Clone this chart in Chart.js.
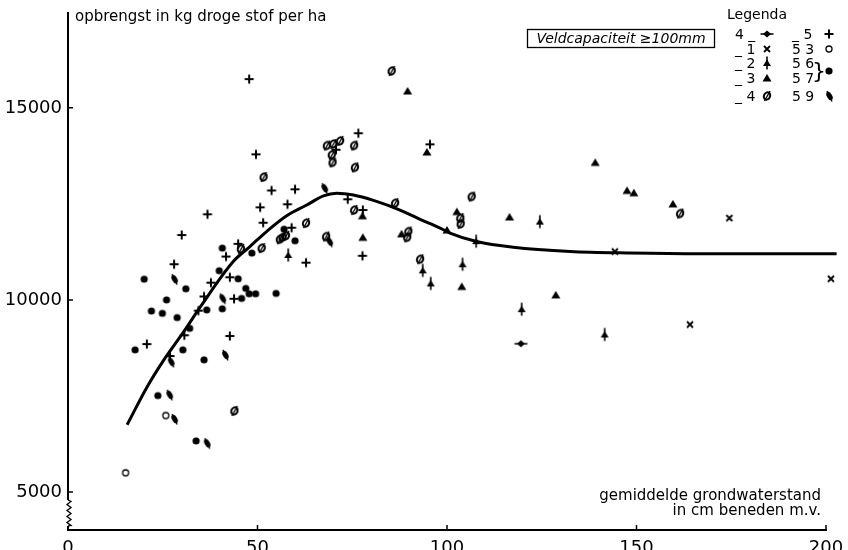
<!DOCTYPE html>
<html>
<head>
<meta charset="utf-8">
<script src="https://cdn.jsdelivr.net/npm/chart.js@4"></script>
<style>
  html, body { margin: 0; padding: 0; background: #fff; }
  #wrap { width: 848px; height: 550px; }
</style>
</head>
<body>
<div id="wrap"><canvas id="grafiek" width="848" height="550"></canvas></div>
<script>
// waarden: [grondwaterstand cm, opbrengst kg/ha]
const pts4_ = [[119.5, 8860]];
const pts_1 = [[144.3, 11260], [174.5, 12130], [164.1, 9360], [201.3, 10550]];
const pts_2 = [[58.1, 11170], [93.6, 10770], [95.7, 10430], [104.1, 10930], [107.7, 11530],
  [124.5, 12040], [119.7, 9760], [141.6, 9100]];
const pts_3 = [[89.6, 15440], [94.7, 13850], [77.8, 11630], [77.7, 12190], [88.0, 11720],
  [100.0, 11820], [102.6, 12300], [116.5, 12160], [103.9, 10350], [128.7, 10130],
  [139.1, 13580], [147.5, 12850], [149.3, 12790], [159.6, 12500]];
const pts_4 = [[85.4, 15960], [68.3, 14020], [70.0, 14060], [71.8, 14140], [69.6, 13780],
  [69.8, 13580], [75.5, 14020], [75.7, 13450], [51.6, 13200], [62.8, 12000], [55.9, 11580],
  [56.6, 11630], [57.5, 11670], [68.1, 11650], [75.5, 12340], [86.3, 12520], [89.8, 11780],
  [89.5, 11630], [92.9, 11060], [103.5, 12130], [103.6, 11980], [106.5, 12690], [161.5, 12250],
  [45.6, 11330], [51.1, 11350], [43.9, 7110]];
const pts_5 = [[47.8, 15750], [76.6, 14340], [70.7, 13910], [95.5, 14050], [49.6, 13790],
  [53.7, 12850], [59.9, 12880], [36.8, 12230], [50.7, 12410], [57.9, 12490], [73.8, 12620],
  [77.8, 12340], [51.5, 12010], [59.0, 11880], [30.0, 11690], [41.7, 11130], [62.8, 10970],
  [77.7, 11150], [28.0, 10930], [42.7, 10590], [37.7, 10450], [43.8, 10030], [35.9, 10090],
  [34.4, 9720], [30.7, 9080], [42.7, 9060], [20.8, 8850], [26.9, 8540], [44.9, 11460]];
const pts53 = [[15.2, 5500], [25.8, 6990]];
const pts5657 = [[20.1, 10540], [31.1, 10290], [26.0, 10000], [22.0, 9710], [24.9, 9650],
  [28.8, 9540], [32.1, 9260], [17.7, 8700], [30.3, 8700], [35.9, 8440], [23.7, 7510],
  [33.8, 6330], [40.7, 11350], [39.9, 10760], [44.9, 10550], [46.9, 10300], [47.8, 10160],
  [49.5, 10160], [54.9, 10170], [45.8, 10040], [36.6, 9740], [40.7, 9770], [48.5, 11220],
  [57.0, 11840], [59.9, 11540]];
const pts59 = [[28.0, 10540], [40.7, 10040], [41.4, 8570], [27.1, 8390], [26.7, 7530],
  [28.0, 6900], [36.6, 6270], [67.6, 12910], [68.9, 11520]];

// getekende kromme
const curveX = [15.6, 20.9, 25.3, 30.6, 35.0, 43.6, 48.0, 52.4, 57.7, 63.0, 67.4, 70.9,
  75.3, 80.6, 87.6, 92.9, 98.2, 100.8, 107.8, 117.5, 132.5, 148.3, 166.8, 202.8];
const curveY = [6750, 7740, 8440, 9180, 9830, 11000, 11390, 11780, 12190, 12470, 12710, 12780,
  12730, 12590, 12340, 12100, 11870, 11740, 11520, 11370, 11260, 11220, 11200, 11200];

const xTicks = [0, 50, 100, 150, 200];
const yTicks = [5000, 10000, 15000];
const legendLeft = ["4 _", "_ 1", "_ 2", "_ 3", "_ 4"];
const legendRight = ["_ 5", "5 3", "5 6", "5 7", "5 9"];

const FONT = "'DejaVu Sans', sans-serif";

// symbolen tekenen
function drawMarker(c, type, x, y) {
  c.save();
  c.translate(x, y);
  c.fillStyle = "#000";
  c.strokeStyle = "#000";
  c.lineCap = "butt";
  if (type == "dot") {
    c.beginPath(); c.arc(0, 0, 3.6, 0, Math.PI * 2); c.fill();
  } else if (type == "open") {
    c.lineWidth = 1.3;
    c.beginPath(); c.arc(0, 0, 3, 0, Math.PI * 2); c.stroke();
  } else if (type == "plus") {
    c.lineWidth = 2;
    c.beginPath(); c.moveTo(-4.5, 0); c.lineTo(4.5, 0); c.moveTo(0, -4.5); c.lineTo(0, 4.5); c.stroke();
  } else if (type == "cross") {
    c.lineWidth = 1.8;
    c.beginPath(); c.moveTo(-3, -3); c.lineTo(3, 3); c.moveTo(3, -3); c.lineTo(-3, 3); c.stroke();
  } else if (type == "tri") {
    c.beginPath(); c.moveTo(0, -4); c.lineTo(4.5, 3.5); c.lineTo(-4.5, 3.5); c.closePath(); c.fill();
  } else if (type == "spade") {
    c.beginPath(); c.moveTo(0, -3.5); c.lineTo(4, 3); c.lineTo(-4, 3); c.closePath(); c.fill();
    c.lineWidth = 1.6;
    c.beginPath(); c.moveTo(0, -6.5); c.lineTo(0, 6.5); c.stroke();
  } else if (type == "slash") {
    c.lineWidth = 2;
    c.beginPath(); c.ellipse(0, 0, 3, 3.8, 0.5, 0, Math.PI * 2); c.stroke();
    c.lineWidth = 1.4;
    c.beginPath(); c.moveTo(-2.5, 5); c.lineTo(3, -5); c.stroke();
  } else if (type == "flag") {
    c.beginPath(); c.ellipse(0.5, 0, 2.6, 4.6, -0.5, 0, Math.PI * 2); c.fill();
    c.lineWidth = 1.4;
    c.beginPath(); c.moveTo(-2, -5); c.lineTo(3, 5.5); c.stroke();
  } else if (type == "bar") {
    c.beginPath(); c.moveTo(0, -3.5); c.lineTo(4, 0); c.lineTo(0, 3.5); c.lineTo(-4, 0); c.closePath(); c.fill();
    c.lineWidth = 1.5;
    c.beginPath(); c.moveTo(-6.5, 0); c.lineTo(6.5, 0); c.stroke();
  }
  c.restore();
}

function markerCanvas(type) {
  const cv = document.createElement("canvas");
  cv.width = 16; cv.height = 16;
  drawMarker(cv.getContext("2d"), type, 8, 8);
  return cv;
}

function pointSet(label, arr, type) {
  return {
    type: "scatter",
    label: label,
    data: arr.map((p) => ({ x: p[0], y: p[1] })),
    pointStyle: markerCanvas(type),
    showLine: false,
    clip: false,
  };
}

const decoratie = {
  id: "decoratie",
  afterDraw(chart) {
    const c = chart.ctx;
    const xs = chart.scales.x, ys = chart.scales.y;
    const left = xs.left, bottom = ys.bottom;
    c.save();
    c.fillStyle = "#000";
    c.strokeStyle = "#000";

    // kleine streepjes naar binnen
    c.lineWidth = 1.5;
    c.beginPath();
    xTicks.forEach((v) => {
      const px = xs.getPixelForValue(v);
      c.moveTo(px, bottom); c.lineTo(px, bottom - 5);
    });
    yTicks.forEach((v) => {
      const py = ys.getPixelForValue(v);
      c.moveTo(left, py); c.lineTo(left + 5, py);
    });
    c.stroke();

    // onderbreking van de y-as
    const y0 = ys.getPixelForValue(5000) + 8, y1 = bottom - 4;
    c.fillStyle = "#fff";
    c.fillRect(left - 3, y0, 6, y1 - y0);
    c.fillStyle = "#000";
    c.lineWidth = 1.3;
    c.beginPath();
    c.moveTo(left, y0);
    let k = 0;
    for (let yy = y0 + 1.5; yy < y1; yy += 3) {
      c.lineTo(left + (k % 2 == 0 ? 3 : -1), yy);
      k++;
    }
    c.lineTo(left, y1);
    c.stroke();

    // titels
    c.textBaseline = "alphabetic";
    c.font = "15px " + FONT;
    c.textAlign = "left";
    c.fillText("opbrengst in kg droge stof per ha", left + 7, 21);
    c.textAlign = "right";
    c.fillText("gemiddelde grondwaterstand", 821, 500);
    c.fillText("in cm beneden m.v.", 821, 515);

    // kader veldcapaciteit
    c.lineWidth = 1.3;
    c.strokeRect(527.5, 29.5, 187, 18);
    c.font = "italic 14px " + FONT;
    c.textAlign = "center";
    c.fillText("Veldcapaciteit \u2265100mm", 621, 43);

    // legenda
    c.font = "14px " + FONT;
    c.textAlign = "left";
    c.fillText("Legenda", 727, 19);
    const rowY = [34, 49, 63, 78, 96];
    const leftTypes = ["bar", "cross", "spade", "tri", "slash"];
    const rightTypes = ["plus", "open", null, null, "flag"];
    rowY.forEach((ry, i) => {
      c.fillText(legendLeft[i], 735, ry + 5);
      drawMarker(c, leftTypes[i], 767, ry);
      c.fillText(legendRight[i], 792, ry + 5);
      if (rightTypes[i]) drawMarker(c, rightTypes[i], 829, ry);
    });
    c.font = "22px " + FONT;
    c.fillText("}", 812, 78);
    drawMarker(c, "dot", 829, 71);
    c.restore();
  },
};

new Chart(document.getElementById("grafiek"), {
  type: "scatter",
  data: {
    datasets: [
      {
        type: "line",
        label: "kromme",
        data: curveX.map((x, i) => ({ x: x, y: curveY[i] })),
        borderColor: "#000",
        borderWidth: 3,
        pointRadius: 0,
        showLine: true,
        cubicInterpolationMode: "monotone",
        fill: false,
        clip: false,
      },
      pointSet("4_", pts4_, "bar"),
      pointSet("_1", pts_1, "cross"),
      pointSet("_2", pts_2, "spade"),
      pointSet("_3", pts_3, "tri"),
      pointSet("_4", pts_4, "slash"),
      pointSet("_5", pts_5, "plus"),
      pointSet("53", pts53, "open"),
      pointSet("56-57", pts5657, "dot"),
      pointSet("59", pts59, "flag"),
    ],
  },
  options: {
    responsive: false,
    animation: false,
    events: [],
    layout: { padding: { top: 13, right: 22, left: 0, bottom: 0 } },
    plugins: { legend: { display: false }, tooltip: { enabled: false } },
    scales: {
      x: {
        type: "linear",
        min: 0,
        max: 200,
        afterBuildTicks: (s) => { s.ticks = xTicks.map((v) => ({ value: v })); },
        afterFit: (s) => { s.height = 20; },
        grid: { display: false },
        border: { display: true, color: "#000", width: 2 },
        ticks: { color: "#000", font: { family: FONT, size: 18 }, padding: 0, maxRotation: 0 },
      },
      y: {
        type: "linear",
        min: 4010,
        max: 17470,
        afterBuildTicks: (s) => { s.ticks = yTicks.map((v) => ({ value: v })); },
        afterFit: (s) => { s.width = 68; },
        grid: { display: false },
        border: { display: true, color: "#000", width: 2 },
        ticks: { color: "#000", font: { family: FONT, size: 18 }, padding: -2, callback: (v) => String(v) },
      },
    },
  },
  plugins: [decoratie],
});
</script>
</body>
</html>
